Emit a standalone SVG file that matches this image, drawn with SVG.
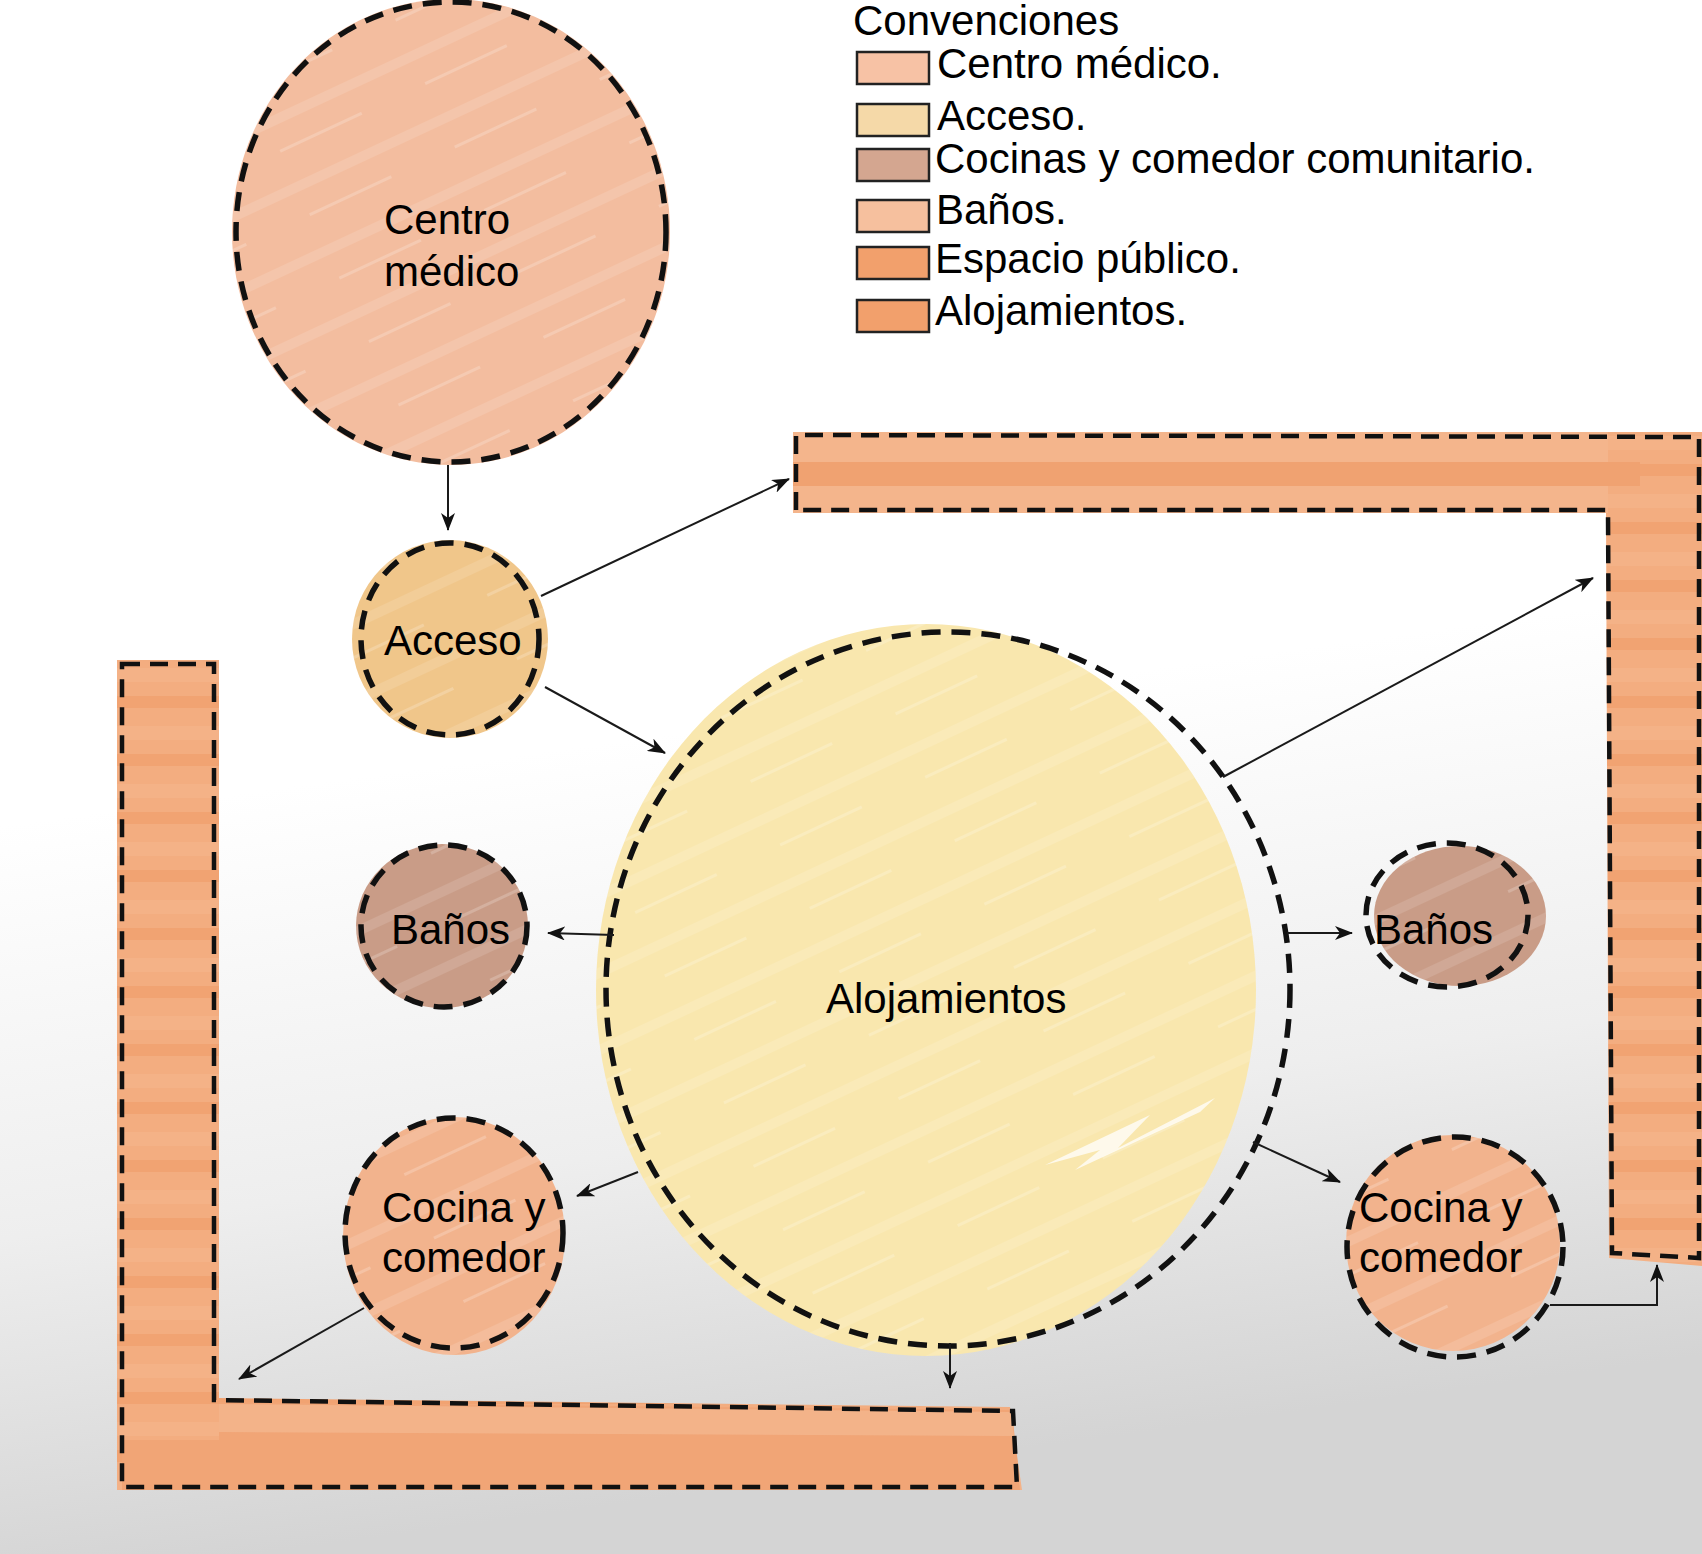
<svg xmlns="http://www.w3.org/2000/svg" width="1702" height="1554" viewBox="0 0 1702 1554">
<style>
text{font-family:"Liberation Sans",Arial,sans-serif;font-size:42px;fill:#000}
.dash{fill:none;stroke:#111;stroke-width:5.5;stroke-dasharray:19 11}
.dashL{fill:none;stroke:#111;stroke-width:4.5;stroke-dasharray:18 10}
.conn{fill:none;stroke:#1a1a1a;stroke-width:2}
.lg{stroke:#222;stroke-width:2.5}
</style>
<defs>
<linearGradient id="bg" x1="0" y1="0" x2="0.15" y2="1">
<stop offset="0" stop-color="#ffffff"/>
<stop offset="0.52" stop-color="#ffffff"/>
<stop offset="0.78" stop-color="#eeeeee"/>
<stop offset="1" stop-color="#d4d4d4"/>
</linearGradient>
<pattern id="streak" width="160" height="70" patternUnits="userSpaceOnUse" patternTransform="rotate(-25)">
<rect x="0" y="10" width="160" height="10" fill="#ffffff" opacity="0.12"/>
<rect x="30" y="44" width="90" height="3" fill="#ffffff" opacity="0.2"/>
</pattern>
<pattern id="stripesV" width="40" height="58" patternUnits="userSpaceOnUse">
<rect width="40" height="58" fill="#f3ad80"/>
<rect y="0" width="40" height="12" fill="#f0a06e" opacity="0.8"/>
<rect y="30" width="40" height="14" fill="#f5b68c" opacity="0.6"/>
</pattern>
<marker id="ah" viewBox="0 0 18 14" refX="17" refY="7" markerWidth="18" markerHeight="14" markerUnits="userSpaceOnUse" orient="auto">
<path d="M0,0 L18,7 L0,14 L5,7 z" fill="#111"/>
</marker>
</defs>
<rect width="1702" height="1554" fill="url(#bg)"/>

<g id="legend">
<text x="853" y="35" font-size="40">Convenciones</text>
<rect class="lg" x="857" y="52" width="72" height="32" fill="#f7c2a5"/>
<text x="937" y="78">Centro médico.</text>
<rect class="lg" x="857" y="104" width="72" height="32" fill="#f5d9a8"/>
<text x="937" y="130">Acceso.</text>
<rect class="lg" x="857" y="149" width="72" height="32" fill="#d4a690"/>
<text x="935" y="173">Cocinas y comedor comunitario.</text>
<rect class="lg" x="857" y="200" width="72" height="32" fill="#f6c09e"/>
<text x="936" y="224">Baños.</text>
<rect class="lg" x="857" y="247" width="72" height="32" fill="#f2a06c"/>
<text x="935" y="273">Espacio público.</text>
<rect class="lg" x="857" y="300" width="72" height="32" fill="#f2a06c"/>
<text x="935" y="325">Alojamientos.</text>
</g>

<g id="espacio-publico-izq">
<path d="M117,660 L219,660 L219,1398 L1010,1407 L1022,1490 L117,1490 Z" fill="url(#stripesV)"/>
<path d="M219,1402 L1012,1410 L1020,1490 L122,1490 L122,1440 L219,1440 Z" fill="#f1a576"/>
<path d="M219,1404 L1012,1412 L1014,1436 L219,1432 Z" fill="#f4b68e" opacity="0.8"/>
<path class="dashL" d="M122,664 L214,664 L214,1400 L1013,1411 L1017,1487 L122,1487 Z"/>
</g>

<g id="espacio-publico-der">
<path d="M793,432 L1702,432 L1702,1266 L1609,1258 L1606,513 L793,513 Z" fill="url(#stripesV)"/>
<path d="M793,432 L1608,432 L1608,513 L793,513 Z" fill="#f4b58c"/>
<path d="M793,462 L1640,462 L1640,486 L793,486 Z" fill="#f0a271"/>
<path class="dashL" d="M796,510 L796,435 L1699,437 L1699,1258 L1612,1253 L1608,510 Z"/>
</g>

<g id="centro-medico">
<ellipse cx="451" cy="232" rx="219" ry="233" fill="#f3bd9f"/>
<ellipse cx="451" cy="232" rx="219" ry="233" fill="url(#streak)"/>
<ellipse class="dash" cx="451" cy="232" rx="215" ry="230" stroke-dasharray="22 12"/>
<text x="384" y="234">Centro</text>
<text x="384" y="286">médico</text>
</g>

<g id="acceso">
<ellipse cx="450" cy="639" rx="98" ry="99" fill="#f0c68a"/>
<ellipse cx="450" cy="639" rx="98" ry="99" fill="url(#streak)"/>
<ellipse class="dash" cx="450" cy="639" rx="89" ry="96"/>
<text x="384" y="655">Acceso</text>
</g>

<g id="alojamientos">
<ellipse cx="926" cy="990" rx="330" ry="366" fill="#f9e7ae"/>
<ellipse cx="926" cy="990" rx="330" ry="366" fill="url(#streak)"/>
<path d="M1045,1165 L1150,1115 L1118,1148 L1215,1098 L1200,1112 L1075,1170 L1100,1150 Z" fill="#ffffff" opacity="0.75"/>
<ellipse class="dash" cx="948" cy="989" rx="342" ry="357" stroke-dasharray="22 12"/>
<text x="826" y="1013">Alojamientos</text>
</g>

<g id="banos-izq">
<ellipse cx="442" cy="926" rx="86" ry="82" fill="#c99c87"/>
<ellipse cx="442" cy="926" rx="86" ry="82" fill="url(#streak)"/>
<ellipse class="dash" cx="444" cy="926" rx="83" ry="81"/>
<text x="391" y="944">Baños</text>
</g>

<g id="banos-der">
<ellipse cx="1460" cy="916" rx="86" ry="70" fill="#c99c87"/>
<ellipse cx="1460" cy="916" rx="86" ry="70" fill="url(#streak)"/>
<ellipse class="dash" cx="1447" cy="915" rx="81" ry="72"/>
<text x="1374" y="944">Baños</text>
</g>

<g id="cocina-izq">
<ellipse cx="454" cy="1236" rx="111" ry="119" fill="#f2b38d"/>
<ellipse cx="454" cy="1236" rx="111" ry="119" fill="url(#streak)"/>
<ellipse class="dash" cx="454" cy="1233" rx="109" ry="115"/>
<text x="382" y="1222">Cocina y</text>
<text x="382" y="1272">comedor</text>
</g>

<g id="cocina-der">
<ellipse cx="1453" cy="1243" rx="107" ry="108" fill="#f2b38d"/>
<ellipse cx="1453" cy="1243" rx="107" ry="108" fill="url(#streak)"/>
<ellipse class="dash" cx="1455" cy="1247" rx="108" ry="110"/>
<text x="1359" y="1222">Cocina y</text>
<text x="1359" y="1272">comedor</text>
</g>

<g id="connectors">
<path class="conn" d="M448,465 L448,530" marker-end="url(#ah)"/>
<path class="conn" d="M541,596 L789,479" marker-end="url(#ah)"/>
<path class="conn" d="M545,687 L665,753" marker-end="url(#ah)"/>
<path class="conn" d="M1223,777 L1593,578" marker-end="url(#ah)"/>
<path class="conn" d="M1287,933 L1352,933" marker-end="url(#ah)"/>
<path class="conn" d="M614,935 L548,933" marker-end="url(#ah)"/>
<path class="conn" d="M1253,1142 L1340,1182" marker-end="url(#ah)"/>
<path class="conn" d="M638,1172 L577,1196" marker-end="url(#ah)"/>
<path class="conn" d="M950,1343 L950,1388" marker-end="url(#ah)"/>
<path class="conn" d="M364,1308 L239,1379" marker-end="url(#ah)"/>
<path class="conn" d="M1550,1305 L1657,1305 L1657,1265" marker-end="url(#ah)"/>
</g>
</svg>
